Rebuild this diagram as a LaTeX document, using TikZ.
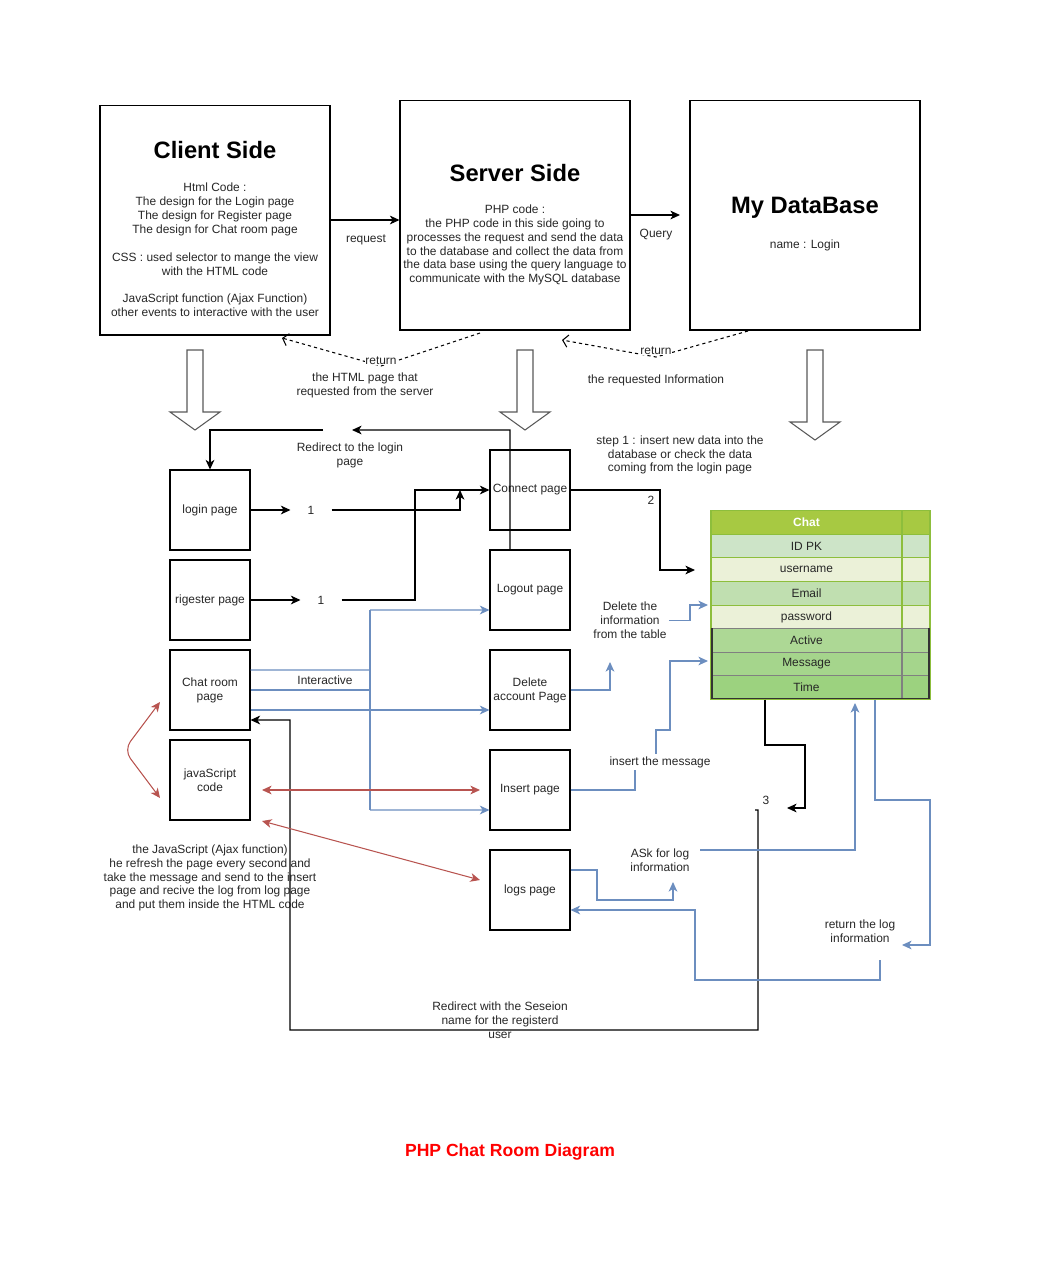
\documentclass[tikz,border=0pt]{standalone}
\usepackage{fontspec}
\setmainfont{Liberation Sans}
\usetikzlibrary{positioning, arrows.meta, calc}
\definecolor{chatblau}{HTML}{6C8EBF}
\definecolor{chatrot}{HTML}{B85450}
\definecolor{tabkopf}{HTML}{A7C942}
\definecolor{tablinie}{HTML}{8DBE3C}
\definecolor{zeileA}{HTML}{CDE4C8}
\definecolor{zeileB}{HTML}{EBF1D8}
\definecolor{zeileC}{HTML}{C0DFB0}
\definecolor{zeileD}{HTML}{ADD895}
\definecolor{zeileE}{HTML}{A5D58C}
\definecolor{zeileF}{HTML}{9CD27F}

\begin{document}
\begin{tikzpicture}[x=0.02cm, y=-0.02cm, line width=0.6pt,
    font=\fontsize{6.8pt}{7.9pt}\selectfont,
    >={Stealth[length=5.5pt, width=5pt, inset=1.6pt]},
    bigbox/.style={draw, minimum width=4.6cm, minimum height=4.6cm},
    headline/.style={font=\fontsize{13.5pt}{15pt}\selectfont\bfseries},
    page/.style={draw, minimum width=1.6cm, minimum height=1.6cm, align=center, inner sep=1pt, text=black!85},
    lbl/.style={align=center, text=black!85, inner sep=1pt},
    numlbl/.style={lbl, minimum width=0.8cm},
    hollow/.style={draw=black!65, fill=white},
    bluearr/.style={chatblau, ->},
    redarr/.style={chatrot, <->},
    retarr/.style={dash pattern=on 1.8pt off 1.8pt, -{Straight Barb[length=3pt, width=7pt]}},
    tabrow/.style={minimum width=3.82cm, minimum height=0.472cm, inner sep=0pt, text=black!85},
    tabend/.style={minimum width=0.56cm, minimum height=0.472cm, inner sep=0pt}]

    \useasboundingbox (0,0) rectangle (1039,1276);

    % Die drei Hauptbloecke
    \node[bigbox] (client) at (215,220) {};
    \node[bigbox] (server) at (515,215) {};
    \node[bigbox] (dbase) at (805,215) {};

    \node[headline] (clientT) at (215,150) {Client Side};
    \node[lbl] (clientTxt) at (215,250) {Html Code :\\The design for the Login page\\The design for Register page\\The design for Chat room page\\[7.9pt]CSS : used selector to mange the view\\with the HTML code\\[7.9pt]JavaScript function (Ajax Function)\\other events to interactive with the user};
    \node[headline] (serverT) at (515,173) {Server Side};
    \node[lbl] (serverTxt) at (515,245) {PHP code :\\the PHP code in this side going to\\processes the request and send the data\\to the database and collect the data from\\the data base using the query language to\\communicate with the MySQL database};
    \node[headline] (dbaseT) at (805,208) {My DataBase};
    \node[lbl] (dbaseTxt) at (805,245) {name : Login};

    % Anfrage und Query
    \coordinate (qEnd) at (680,215);
    \draw[->] (client.east) -- (server.west |- client.east);
    \node[lbl] (reqL) at (366,240) {request};
    \draw[->] (server.east) -- (qEnd);
    \node[lbl] (queryL) at (656,235) {Query};

    % Rueckgabe (gestrichelt)
    \draw[retarr] (480,333) -- (381,366) -- (282,338);
    \node[lbl, fill=white, inner sep=0.3pt] (ret1) at (381,361) {return};
    \draw[retarr] (748,331) -- (656,357) -- (562,340);
    \node[lbl, fill=white, inner sep=0.3pt] (ret2) at (656,351) {return};
    \node[lbl] (htmlL) at (365,385) {the HTML page that\\requested from the server};
    \node[lbl] (infoL) at (656,380) {the requested Information};

    % Blockpfeile nach unten
    \foreach \cx/\tip in {195/430, 525/430, 815/440}
        \draw[hollow] (\cx-8,350) -- (\cx+8,350) -- (\cx+8,\tip-18) -- (\cx+25,\tip-18)
            -- (\cx,\tip) -- (\cx-25,\tip-18) -- (\cx-8,\tip-18) -- cycle;

    % Seiten
    \node[page] (login) at (210,510) {login page};
    \node[page] (register) at (210,600) {rigester page};
    \node[page] (chatroom) at (210,690) {Chat room\\page};
    \node[page] (jscode) at (210,780) {javaScript\\code};
    \node[page] (connect) at (530,490) {Connect page};
    \node[page] (logout) at (530,590) {Logout page};
    \node[page] (delacc) at (530,690) {Delete\\account Page};
    \node[page] (insert) at (530,790) {Insert page};
    \node[page] (logs) at (530,890) {logs page};

    % Beschriftungen
    \node[numlbl] (one1) at (311,510) {1};
    \node[numlbl] (one2) at (321,600) {1};
    \node[lbl] (two) at (651,500) {2};
    \node[lbl] (three) at (766,800) {3};
    \node[lbl] (redirL) at (350,455) {Redirect to the login\\page};
    \node[lbl] (stepL) at (680,455) {step 1 : insert new data into the\\database or check the data\\coming from the login page};
    \node[lbl] (interL) at (325,680) {Interactive};
    \node[lbl] (delL) at (630,620.5) {Delete the\\information\\from the table};
    \node[lbl] (insL) at (660,762) {insert the message};
    \node[lbl] (askL) at (660,860) {ASk for log\\information};
    \node[lbl] (retL) at (860,931) {return the log\\information};
    \node[lbl] (jsL) at (210,878) {the JavaScript (Ajax function)\\he refresh the page every second and\\take the message and send to the insert\\page and recive the log from log page\\and put them inside the HTML code};
    \node[lbl] (sessL) at (500,1020) {Redirect with the Seseion\\name for the registerd\\user};
    \node[font=\fontsize{10pt}{12pt}\selectfont\bfseries, text=red] (title) at (510,1152) {PHP Chat Room Diagram};

    % Tabelle Chat
    \node[tabrow, fill=tabkopf, draw=tablinie, text=white, font=\fontsize{6.8pt}{7.9pt}\selectfont\bfseries] (chat) at (806.5,522.5) {Chat};
    \node[tabend, fill=tabkopf, draw=tablinie] (chat-e) at (916,522.5) {};
    \foreach \nm/\txt/\fl/\ln [count=\i] in {idpk/ID PK/zeileA/tablinie, uname/username/zeileB/tablinie,
            email/Email/zeileC/tablinie, pwd/password/zeileB/tablinie, active/Active/zeileD/gray,
            msg/Message/zeileE/gray, time/Time/zeileF/gray} {
        \node[tabrow, fill=\fl, draw=\ln] (\nm) at (806.5,522.5+23.6*\i) {\txt};
        \node[tabend, fill=\fl, draw=\ln] (\nm-e) at (916,522.5+23.6*\i) {};
    }
    \draw[tablinie, line width=1.1pt] (710.5,510.5) rectangle (930.5,699.5);
    \draw[black!80] (712,628) |- (929,698.5) -- (929,628);

    % schwarze Verbindungen
    \coordinate (redTip) at (352,430);
    \coordinate (redStart) at (323,430);
    \coordinate (join1) at (460,490);
    \coordinate (join2) at (415,490);
    \coordinate (tabIn) at (695,570);
    \coordinate (threeTip) at (787,808);
    \draw[->] (login) -- (one1);
    \draw[->] (one1) -| (join1);
    \draw[->] (register) -- (one2);
    \draw[->] (one2) -| (join2) -- (connect.west);
    \draw[->] ([xshift=-0.4cm]logout.north) -- (510,430) -- (redTip);
    \draw[->] (redStart) -| (login.north);
    \draw[->] (connect.east) -| (660,570) -- (tabIn);
    \draw[->] (765,699.5) |- (805,745) |- (threeTip);
    \draw[->] (755,810) -| (758,1030) -| (290,720) -- ([yshift=-0.6cm]chatroom.east);

    % blaue Verbindungen
    \coordinate (delTip) at (610,662);
    \coordinate (pwdIn) at (708,605);
    \coordinate (msgIn) at (708,661);
    \coordinate (askTip) at (673,882);
    \coordinate (tabBot) at (855,703);
    \coordinate (retTip) at (902,945);
    \draw[chatblau] ([yshift=0.4cm]chatroom.east) -- (370,670);
    \draw[chatblau] (chatroom.east) -- (370,690);
    \draw[chatblau] (370,610) -- (370,810);
    \draw[bluearr] (370,610) -- ([yshift=-0.4cm]logout.west);
    \draw[bluearr] (370,810) -- ([yshift=-0.4cm]insert.west);
    \draw[bluearr] ([yshift=-0.4cm]chatroom.east) -- ([yshift=-0.4cm]delacc.west);
    \draw[bluearr] (delacc.east) -| (delTip);
    \draw[bluearr] (delL.east) -| (690,605) -- (pwdIn);
    \draw[chatblau] (insert.east) -| (635,770);
    \draw[bluearr] (656,754) |- (670,730) |- (msgIn);
    \draw[bluearr] ([yshift=0.4cm]logs.east) -| (597,900) -| (askTip);
    \draw[bluearr] (700,850) -| (tabBot);
    \draw[bluearr] (875,699.5) |- (930,800) |- (retTip);
    \draw[bluearr] (880,960) |- (695,980) |- ([yshift=-0.4cm]logs.east);

    % rote Verbindungen
    \draw[redarr, rounded corners=6pt] (160,702) -- (124,750) -- (160,798);
    \draw[redarr] (262,790) -- (480,790);
    \draw[redarr] (262,821) -- (480,880);

\end{tikzpicture}
\end{document}
